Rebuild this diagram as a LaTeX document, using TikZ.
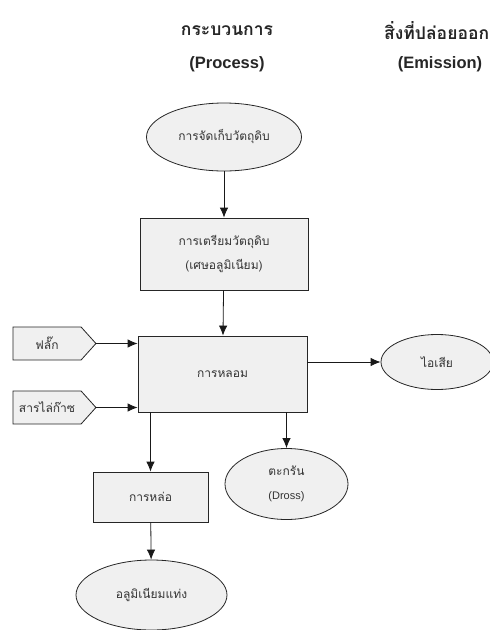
\documentclass[tikz,border=0pt]{standalone}
\usepackage{fontspec}
\setmainfont{Liberation Sans}
\newfontfamily\thai[Script=Thai]{Loma}
\usetikzlibrary{arrows.meta,shapes.geometric,shapes.symbols}
\tikzset{
  box/.style={draw=black!85, fill=gray!12, line width=0.8pt, rectangle, align=center, inner sep=0pt},
  oval/.style={draw=black!85, fill=gray!12, line width=0.8pt, ellipse, align=center, inner sep=0pt},
  inbox/.style={draw=black!85, fill=gray!12, line width=0.8pt, signal, signal to=east, signal pointer angle=96, minimum width=83pt, minimum height=33pt, inner sep=0pt},
  arr/.style={-{Latex[length=10pt,width=8.5pt]}, line width=0.8pt, draw=black!90},
  lbl/.style={font=\thai\fontsize{12}{24}\selectfont, text=black!80},
  head/.style={font=\thai\bfseries\fontsize{17.5}{20}\selectfont, text=black!85},
  headen/.style={font=\bfseries\fontsize{16.5}{19}\selectfont, text=black!85}
}
\begin{document}
\begin{tikzpicture}[x=1pt,y=-1pt]
\useasboundingbox (0,0) rectangle (490,630);
\clip (0,0) rectangle (490,630);
\fill[white] (0,0) rectangle (490,630);
% headers
\node[head] (h1) at (227,31) {กระบวนการ};
\node[headen] (h1e) at (227,64) {(Process)};
\node[head, anchor=west, inner sep=0pt] (h2) at (384,31) {สิ่งที่ปล่อยออก};
\node[headen] (h2e) at (440,64) {(Emission)};
% nodes
\node[oval, lbl, minimum width=155pt, minimum height=68pt] (store) at (224,137) {การจัดเก็บวัตถุดิบ};
\node[box, lbl, minimum width=168pt, minimum height=72pt] (prep) at (224,254) {การเตรียมวัตถุดิบ\\(เศษอลูมิเนียม)};
\node[box, lbl, minimum width=169pt, minimum height=76pt] (melt) at (222.5,374) {การหลอม};
\node[inbox, lbl] (flux) at (47,343.5) {ฟลั๊ก};
\node[inbox, lbl] (degas) at (47,407.5) {สารไล่ก๊าซ};
\node[oval, lbl, minimum width=112pt, minimum height=55pt] (fume) at (437,362) {ไอเสีย};
\node[box, lbl, minimum width=115pt, minimum height=50pt] (cast) at (150.5,497) {การหล่อ};
\node[oval, lbl, minimum width=123pt, minimum height=71pt] (dross) at (286.5,484) {ตะกรัน\\{\rmfamily\fontsize{11}{24}\selectfont(Dross)}};
\node[oval, lbl, minimum width=151pt, minimum height=70pt] (ingot) at (151.5,595) {อลูมิเนียมแท่ง};
% connectors
\draw[arr] (store) -- (prep);
\draw[arr] (prep) -- (melt);
\draw[arr] (flux.east) -- (melt.west |- flux.east);
\draw[arr] (degas.east) -- (melt.west |- degas.east);
\draw[arr] (melt.east |- fume.west) -- (fume.west);
\draw[arr] (melt.south -| cast.north) -- (cast.north);
\draw[arr] (melt.south -| dross.north) -- (dross.north);
\draw[arr] (cast) -- (ingot);
\end{tikzpicture}
\end{document}
